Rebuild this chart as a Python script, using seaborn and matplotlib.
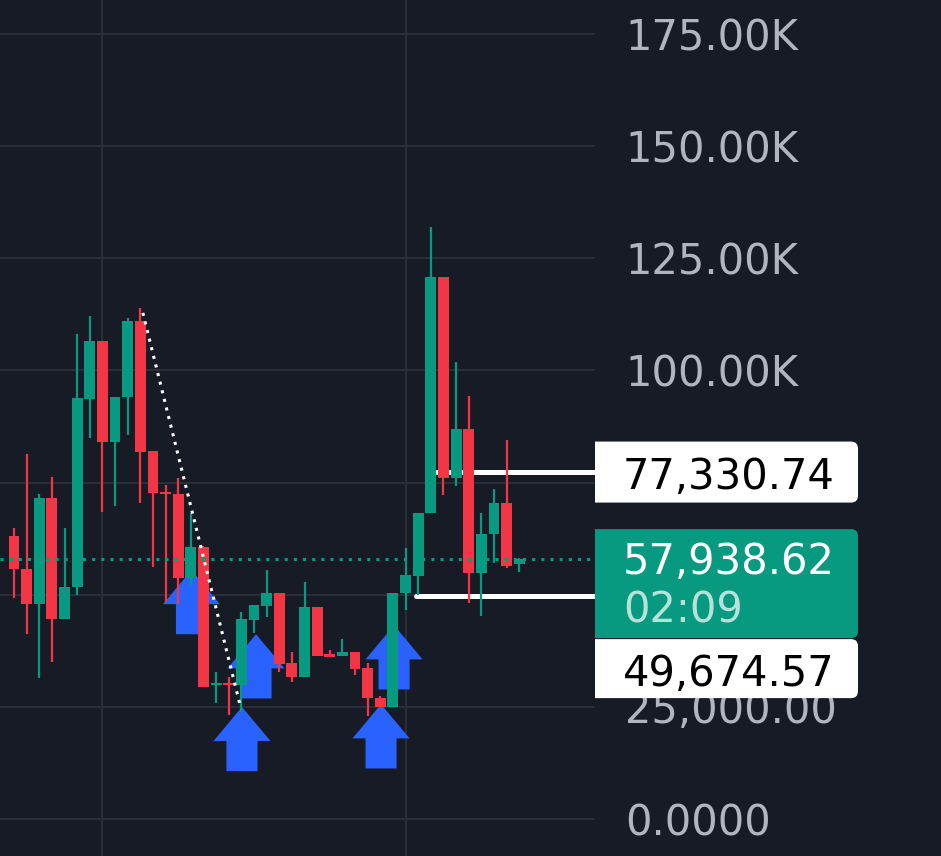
import matplotlib
matplotlib.use("Agg")
import numpy as np
import pandas as pd
import matplotlib.pyplot as plt
import seaborn as sns
from matplotlib.patches import FancyBboxPatch, Rectangle, Polygon

# Prix des bougies (en milliers)
opens  = [63.1, 55.7, 47.9, 71.5, 44.6, 51.7, 93.6, 106.5, 84.0, 94.0,
          111.0, 82.0, 72.9, 72.4, 53.7, 60.6, 29.9, 30.3, 29.9, 44.3,
          47.5, 50.4, 34.8, 31.6, 47.2, 36.8, 36.3, 37.2, 33.6, 27.0,
          25.0, 50.4, 54.1, 68.2, 120.8, 76.0, 86.9, 54.8, 63.5, 70.4, 56.8]
highs  = [64.8, 81.3, 72.4, 76.2, 64.8, 108.1, 112.1, 106.5, 94.0, 111.6,
          113.9, 82.0, 74.4, 76.0, 68.2, 60.8, 32.8, 31.6, 46.1, 47.7,
          55.5, 50.4, 37.2, 52.8, 47.2, 37.7, 40.1, 37.2, 34.8, 27.4,
          50.4, 60.4, 68.2, 131.9, 120.8, 101.8, 94.2, 68.2, 73.5, 84.4, 58.2]
lows   = [49.2, 41.2, 31.4, 35.0, 44.6, 49.9, 84.9, 68.4, 69.7, 85.6,
          70.4, 56.1, 48.3, 47.9, 52.1, 29.4, 25.8, 23.2, 23.8, 41.4,
          45.0, 32.8, 30.5, 31.6, 36.3, 36.1, 36.3, 32.1, 22.9, 25.0,
          25.0, 46.6, 49.9, 68.2, 72.2, 74.2, 48.1, 45.2, 57.0, 55.9, 55.0]
closes = [55.7, 47.9, 71.5, 44.6, 51.7, 93.8, 106.5, 84.0, 94.0, 111.0,
          81.8, 72.6, 72.4, 53.7, 60.6, 29.4, 30.3, 29.9, 44.6, 47.7,
          50.4, 34.5, 31.6, 47.2, 36.3, 36.1, 37.2, 33.4, 27.0, 25.0,
          50.4, 54.4, 68.2, 120.8, 76.0, 86.9, 54.8, 63.5, 70.4, 56.4, 57.94]

# Axe des prix (50K et 75K sont cachés par les étiquettes)
tick_vals = [0, 25, 50, 75, 100, 125, 150, 175]
tick_labels = ["0.0000", "25,000.00", "", "",
               "100.00K", "125.00K", "150.00K", "175.00K"]

# Niveaux marqués
last_price = 57.94
level_high = 77.33
level_low = 49.67
level_high_start = 33.5
level_low_start = 31.8

# Ligne de tendance pointillée
trend_x = [10.2, 17.9]
trend_y = [112.8, 25.4]

# Flèches bleues (position, pointe)
arrow_x = [14.05, 18.05, 19.16, 29.06, 30.09]
arrow_tip = [55.5, 25.0, 41.2, 25.6, 43.2]

BG = "#171b26"
GRID = "#2a2e39"
GREEN = "#089981"
RED = "#f23645"
BLUE = "#2962ff"

sns.set_theme(style="dark", rc={"axes.facecolor": BG, "figure.facecolor": BG})

df = pd.DataFrame({"o": opens, "h": highs, "l": lows, "c": closes})
df["i"] = np.arange(len(df))
df["up"] = df["c"] >= df["o"]
df["col"] = np.where(df["up"], GREEN, RED)
df["bottom"] = df[["o", "c"]].min(axis=1)
df["height"] = (df["c"] - df["o"]).abs().clip(lower=0.5)

fig = plt.figure(figsize=(9.41, 8.56), dpi=100)
ax = fig.add_axes([0, 0, 595 / 941, 1])
ax.set_xlim(-1.11, 46.0)
ax.set_ylim(-8.2, 182.5)

# grille
ax.set_xticks([7, 31])
ax.set_yticks(tick_vals)
ax.set_yticklabels(tick_labels)
ax.grid(True, color=GRID, lw=1.5)
ax.set_axisbelow(True)
ax.yaxis.tick_right()
ax.tick_params(axis="x", length=0, labelbottom=False)
ax.tick_params(axis="y", length=0, pad=21.6, labelsize=30, labelcolor="#b2b5be")
for s in ax.spines.values():
    s.set_visible(False)

# flèches
hw, sw, hh, sh = 2.26, 1.23, 7.6, 6.7
for x, t in zip(arrow_x, arrow_tip):
    pts = [(x, t), (x + hw, t - hh), (x + sw, t - hh), (x + sw, t - hh - sh),
           (x - sw, t - hh - sh), (x - sw, t - hh), (x - hw, t - hh)]
    ax.add_patch(Polygon(pts, closed=True, color=BLUE, lw=0, zorder=2))

# niveaux blancs
for start, lev in [(level_high_start, level_high), (level_low_start, level_low)]:
    ax.plot([start, 46.5], [lev, lev], color="white", lw=3.6,
            solid_capstyle="round", zorder=2.5)

# bougies
ax.vlines(df["i"], df["l"], df["h"], colors=df["col"], lw=1.6, zorder=3)
ax.bar(df["i"], df["height"], bottom=df["bottom"], width=0.86,
       color=df["col"], lw=0, zorder=3)

# prix actuel et tendance
ax.axhline(last_price, color=GREEN, lw=2.2, ls=(0, (1, 2)), zorder=4)
ax.plot(trend_x, trend_y, color="white", lw=2.2, ls=(0, (1, 1.9)), zorder=4)

# étiquettes de prix
ov = fig.add_axes([0, 0, 1, 1], zorder=10)
ov.set_xlim(0, 941)
ov.set_ylim(0, 856)
ov.axis("off")
ov.patch.set_alpha(0)


def ypix(v):
    return ax.transData.transform((0, v))[1]


def box(y0, h, color):
    fb = FancyBboxPatch((585, y0), 273, h, boxstyle="round,pad=0,rounding_size=7",
                        fc=color, ec="none")
    ov.add_patch(fb)
    fb.set_clip_path(Rectangle((595, 0), 346, 856, transform=ov.transData))


c1 = ypix(level_high)
box(c1 - 30.5, 61, "white")
ov.text(623, c1, "77,330.74", fontsize=30, color="black", va="center_baseline")

t2 = ypix(last_price) + 30
box(t2 - 109, 109, GREEN)
ov.text(623, t2 - 28, "57,938.62", fontsize=30, color="white", va="center_baseline")
ov.text(623, t2 - 77, "02:09", fontsize=30, color="#b5e3d9", va="center_baseline")

t3 = t2 - 110
box(t3 - 59, 59, "white")
ov.text(623, t3 - 30, "49,674.57", fontsize=30, color="black", va="center_baseline")

fig.savefig("out.png", dpi=100, facecolor=BG)
